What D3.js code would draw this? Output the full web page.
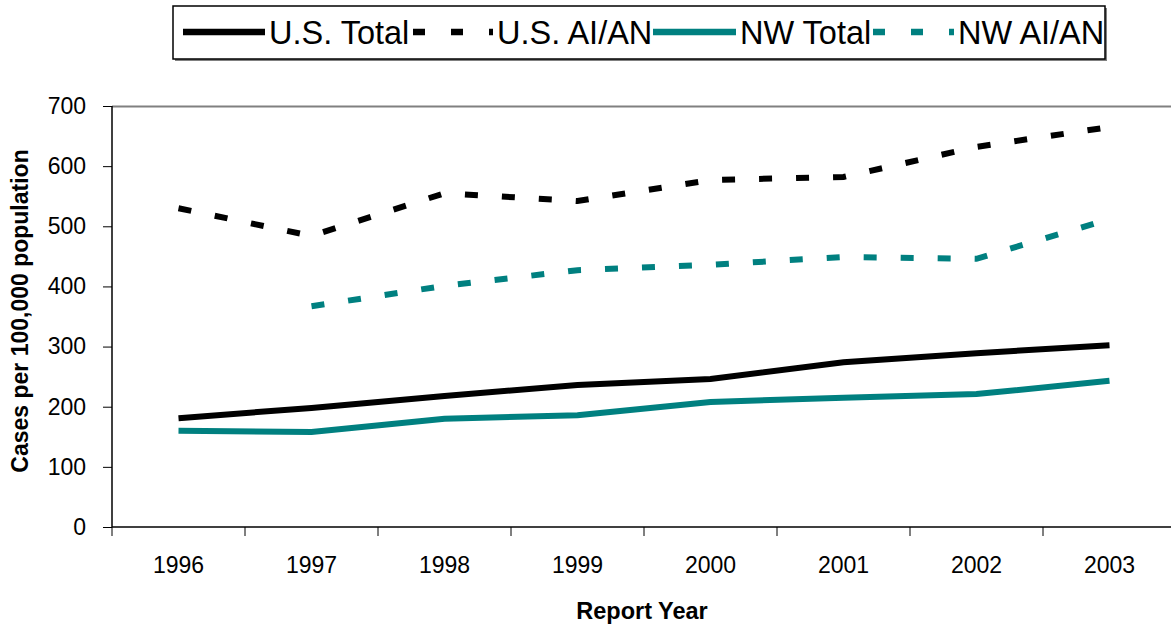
<!DOCTYPE html>
<html>
<head>
<meta charset="utf-8">
<script src="https://cdn.jsdelivr.net/npm/d3@7"></script>
<style>
  body { margin: 0; background: #fff; }
  svg { font-family: "Liberation Sans", Arial, sans-serif; }
</style>
</head>
<body>
<svg width="1171" height="625"></svg>
<script>
// values
var years = ["1996", "1997", "1998", "1999", "2000", "2001", "2002", "2003"];
var usTotal = [181, 198, 218, 236, 246, 274, 289, 302];
var usAian  = [530, 484, 555, 542, 577, 582, 632, 665];
var nwTotal = [160, 158, 180, 186, 208, 215, 221, 243];
var nwAian  = [null, 367, 401, 427, 436, 449, 446, 512];
var yTicks  = [0, 100, 200, 300, 400, 500, 600, 700];

var series = [
  {name: "U.S. Total", values: usTotal, color: "#000", dash: null},
  {name: "U.S. AI/AN", values: usAian, color: "#000", dash: "13,24"},
  {name: "NW Total", values: nwTotal, color: "#008080", dash: null},
  {name: "NW AI/AN", values: nwAian, color: "#008080", dash: "13,24"}
];

var svg = d3.select("svg"),
    margin = {top: 106, left: 112},
    width = 1064,
    height = 421;

var x = d3.scaleBand().domain(years).range([0, width]),
    y = d3.scaleLinear().domain([0, 700]).range([height, 0]);

var g = svg.append("g")
    .attr("transform", "translate(" + margin.left + "," + margin.top + ")");

// top border of plot area
g.append("line")
    .attr("x1", 0).attr("x2", width)
    .attr("y1", 0.5).attr("y2", 0.5)
    .attr("stroke", "#808080").attr("stroke-width", 2);

var yAxis = g.append("g")
    .call(d3.axisLeft(y).tickValues(yTicks).tickSize(9).tickPadding(17));
var xAxis = g.append("g")
    .attr("transform", "translate(0," + height + ")")
    .call(d3.axisBottom(x).tickSize(0).tickPadding(30));

// excel-style ticks between categories
xAxis.selectAll(".cat-tick")
    .data(d3.range(years.length))
    .enter().append("line")
    .attr("x1", function(i) { return i * x.step(); })
    .attr("x2", function(i) { return i * x.step(); })
    .attr("y1", 0).attr("y2", 9)
    .attr("stroke", "#000");

[yAxis, xAxis].forEach(function(a) {
  a.select(".domain").attr("stroke", "#000").attr("stroke-width", 1.5);
  a.selectAll("text").attr("font-size", 23).attr("fill", "#000")
      .attr("font-family", "Liberation Sans, Arial, sans-serif");
});
yAxis.selectAll(".tick line").attr("stroke", "#000");
xAxis.select(".domain").attr("d", "M0,0H" + width);
yAxis.select(".domain").attr("d", "M0,0V" + height);

var line = d3.line()
    .defined(function(d) { return d != null; })
    .x(function(d, i) { return x(years[i]) + x.bandwidth() / 2; })
    .y(function(d) { return y(d); });

g.selectAll(".series")
    .data(series)
    .enter().append("path")
    .attr("class", "series")
    .attr("fill", "none")
    .attr("stroke", function(s) { return s.color; })
    .attr("stroke-width", 6)
    .attr("stroke-dasharray", function(s) { return s.dash; })
    .attr("d", function(s) { return line(s.values); });

// axis titles
svg.append("text")
    .attr("x", 642).attr("y", 619)
    .attr("text-anchor", "middle")
    .attr("font-size", 23.5).attr("font-weight", "bold")
    .text("Report Year");

svg.append("text")
    .attr("transform", "translate(28,311) rotate(-90)")
    .attr("text-anchor", "middle")
    .attr("font-size", 23).attr("font-weight", "bold")
    .text("Cases per 100,000 population");

// legend
var legend = svg.append("g");
legend.append("rect")
    .attr("x", 175).attr("y", 8).attr("width", 932).attr("height", 53)
    .attr("fill", "#808080");
legend.append("rect")
    .attr("x", 173).attr("y", 6).attr("width", 932).attr("height", 53)
    .attr("fill", "#fff").attr("stroke", "#000").attr("stroke-width", 1.5);

var legendLine = [183, 413, 653, 873],
    legendText = [269, 497, 740, 958];
var item = legend.selectAll(".item")
    .data(series)
    .enter().append("g");
item.append("line")
    .attr("x1", function(s, i) { return legendLine[i]; })
    .attr("x2", function(s, i) { return legendText[i] - 4; })
    .attr("y1", 32).attr("y2", 32)
    .attr("stroke", function(s) { return s.color; })
    .attr("stroke-width", 6.5)
    .attr("stroke-dasharray", function(s) { return s.dash ? "12,26" : null; });
item.append("text")
    .attr("x", function(s, i) { return legendText[i]; })
    .attr("y", 44)
    .attr("font-size", 32.5)
    .text(function(s) { return s.name; });
</script>
</body>
</html>
